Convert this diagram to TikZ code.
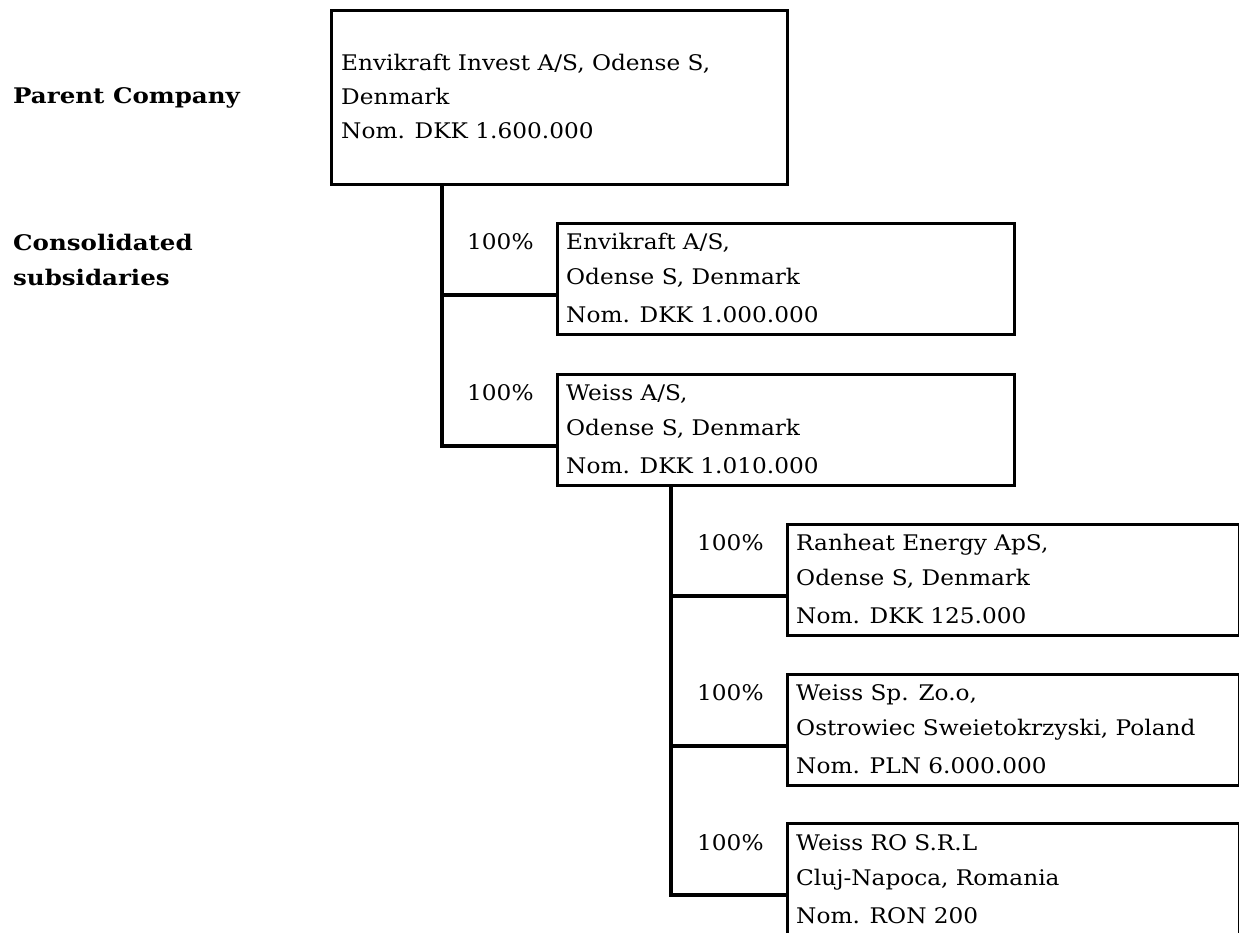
\documentclass[tikz,border=0pt]{standalone}
\usepackage{fontspec}
\setmainfont{DejaVu Serif}[FakeStretch=1.08]
\newfontfamily\lblfont{DejaVu Serif}[FakeStretch=1.14]
\usetikzlibrary{calc}
\begin{document}
\begin{tikzpicture}[x=1pt,y=-1pt]
\tikzset{
  box/.style={draw, line width=3.1pt, anchor=north west, inner sep=0pt, minimum height=111pt},
  txt/.style={anchor=base west, inner sep=0pt, font=\fontsize{21.5}{26}\selectfont},
  lbl/.style={anchor=base west, inner sep=0pt, font=\lblfont\fontsize{21.5}{26}\selectfont\bfseries},
  conn/.style={line width=3.1pt},
}
\clip (0,0) rectangle (1239,932);
\fill[white] (0,0) rectangle (1239,932);

% labels
\node[lbl] (lp) at (13,103) {Parent Company};
\node[lbl] (lc1) at (13,250) {Consolidated};
\node[lbl] (lc2) at (13,285) {subsidaries};

% boxes
\node[box, minimum width=456pt, minimum height=174pt] (P) at (330,9) {};
\node[box, minimum width=457pt] (E) at (556,222) {};
\node[box, minimum width=457pt] (W) at (556,373) {};
\node[box, minimum width=452pt] (R) at (786,523) {};
\node[box, minimum width=452pt] (S) at (786,673) {};
\node[box, minimum width=452pt, minimum height=150pt] (O) at (786,822) {};

% parent text
\node[txt] (P1) at ($(P.north west)+(11,61)$) {Envikraft Invest A/S, Odense S,};
\node[txt] (P2) at ($(P.north west)+(11,95)$) {Denmark};
\node[txt] (P3) at ($(P.north west)+(11,129)$) {Nom. DKK 1.600.000};

% subsidiary texts
\node[txt] (E1) at ($(E.north west)+(10,27)$) {Envikraft A/S,};
\node[txt] (E2) at ($(E.north west)+(10,62)$) {Odense S, Denmark};
\node[txt] (E3) at ($(E.north west)+(10,100)$) {Nom. DKK 1.000.000};
\node[txt] (Ep) at ($(E.north west)+(-89,27)$) {100\%};

\node[txt] (W1) at ($(W.north west)+(10,27)$) {Weiss A/S,};
\node[txt] (W2) at ($(W.north west)+(10,62)$) {Odense S, Denmark};
\node[txt] (W3) at ($(W.north west)+(10,100)$) {Nom. DKK 1.010.000};
\node[txt] (Wp) at ($(W.north west)+(-89,27)$) {100\%};

\node[txt] (R1) at ($(R.north west)+(10,27)$) {Ranheat Energy ApS,};
\node[txt] (R2) at ($(R.north west)+(10,62)$) {Odense S, Denmark};
\node[txt] (R3) at ($(R.north west)+(10,100)$) {Nom. DKK 125.000};
\node[txt] (Rp) at ($(R.north west)+(-89,27)$) {100\%};

\node[txt] (S1) at ($(S.north west)+(10,27)$) {Weiss Sp. Zo.o,};
\node[txt] (S2) at ($(S.north west)+(10,62)$) {Ostrowiec Sweietokrzyski, Poland};
\node[txt] (S3) at ($(S.north west)+(10,100)$) {Nom. PLN 6.000.000};
\node[txt] (Sp) at ($(S.north west)+(-89,27)$) {100\%};

\node[txt] (O1) at ($(O.north west)+(10,28)$) {Weiss RO S.R.L};
\node[txt] (O2) at ($(O.north west)+(10,63)$) {Cluj-Napoca, Romania};
\node[txt] (O3) at ($(O.north west)+(10,101)$) {Nom. RON 200};
\node[txt] (Op) at ($(O.north west)+(-89,28)$) {100\%};

% connectors
\coordinate (pt) at ($(P.south west)+(112,0)$);
\coordinate (eIn) at ($(E.north west)+(0,73)$);
\coordinate (wIn) at ($(W.north west)+(0,73)$);
\draw[conn] (pt) |- (wIn);
\draw[conn] (eIn) -- (eIn -| pt);

\coordinate (wt) at ($(W.south west)+(115,0)$);
\coordinate (rIn) at ($(R.north west)+(0,73)$);
\coordinate (sIn) at ($(S.north west)+(0,73)$);
\coordinate (oIn) at ($(O.north west)+(0,73)$);
\draw[conn] (wt) |- (oIn);
\draw[conn] (rIn) -- (rIn -| wt);
\draw[conn] (sIn) -- (sIn -| wt);
\end{tikzpicture}
\end{document}
